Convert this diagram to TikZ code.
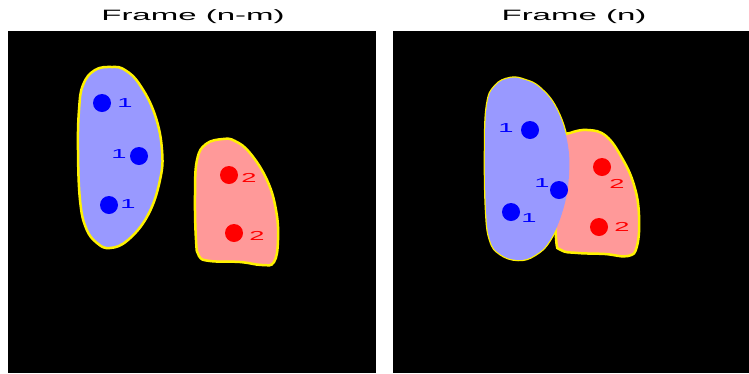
\documentclass[tikz,border=0pt]{standalone}
\usepackage{fontspec}
\setmainfont{Liberation Sans}
\usetikzlibrary{positioning}

\definecolor{blobblue}{RGB}{153,153,255}
\definecolor{blobred}{RGB}{255,153,153}

\tikzset{
  bdot/.style={circle, fill=blue, inner sep=0pt, minimum size=18pt},
  rdot/.style={circle, fill=red, inner sep=0pt, minimum size=18pt},
  numlbl/.style={font=\fontsize{13}{13}\selectfont, xscale=2.1, inner sep=0pt},
  frametitle/.style={font=\fontsize{15}{15}\selectfont, xscale=2.2, inner sep=0pt},
  rim/.style={draw=yellow, line width=2.5pt},
}

\begin{document}
\begin{tikzpicture}[x=1pt, y=-1pt]
  \useasboundingbox (0,0) rectangle (749,373);

  % 画面
  \fill[black] (8,31) rectangle (376,373);
  \fill[black] (393,31) rectangle (749,373);

  % タイトル
  \node[frametitle] (titleA) at (193,17) {Frame (n-m)};
  \node[frametitle] (titleB) at (574,17) {Frame (n)};

  % 左: 青の領域
  \draw[rim, fill=blobblue] plot[smooth cycle, tension=0.7] coordinates {
    (112,67) (95,70) (83,85) (79,110) (78,150) (80,200) (86,228) (97,243)
    (110,248) (128,240) (148,215) (160,180) (162,150) (155,115) (140,85) (125,70)};

  % 左: 赤の領域
  \draw[rim, fill=blobred] plot[smooth cycle, tension=0.7] coordinates {
    (223,139) (206,144) (197,160) (195,195) (196,240) (199,256) (210,261)
    (240,262) (262,265) (274,262) (278,240) (276,210) (267,180) (250,153) (235,141)};

  % 右: 青の縁
  \draw[rim] plot[smooth cycle, tension=0.7] coordinates {
    (510,78) (495,86) (487,105) (485,150) (486,210) (490,240) (500,254) (518,260)
    (535,255) (550,240) (563,210) (569,175) (567,140) (556,108) (540,88) (525,80)};

  % 右: 赤の領域
  \draw[rim, fill=blobred] plot[smooth cycle, tension=0.7] coordinates {
    (588,130) (570,133) (560,140) (555,180) (556,238) (561,250) (578,253)
    (605,254) (628,256) (637,246) (639,215) (634,185) (622,158) (606,136)};

  % 右: 青の領域
  \fill[blobblue] plot[smooth cycle, tension=0.7] coordinates {
    (510,78) (495,86) (487,105) (485,150) (486,210) (490,240) (500,254) (518,260)
    (535,255) (550,240) (563,210) (569,175) (567,140) (556,108) (540,88) (525,80)};

  % 左の点
  \node[bdot] (la1) at (102,103) {};
  \node[bdot] (la2) at (139,156) {};
  \node[bdot] (la3) at (109,205) {};
  \node[rdot] (lb1) at (229,175) {};
  \node[rdot] (lb2) at (234,233) {};
  \node[numlbl, text=blue] (la1n) at (125,103) {1};
  \node[numlbl, text=blue] (la2n) at (119,154) {1};
  \node[numlbl, text=blue] (la3n) at (128,204) {1};
  \node[numlbl, text=red] (lb1n) at (249,178) {2};
  \node[numlbl, text=red] (lb2n) at (257,236) {2};

  % 右の点
  \node[bdot] (ra1) at (530,130) {};
  \node[bdot] (ra2) at (559,190) {};
  \node[bdot] (ra3) at (511,212) {};
  \node[rdot] (rb1) at (602,167) {};
  \node[rdot] (rb2) at (599,227) {};
  \node[numlbl, text=blue] (ra1n) at (506,128) {1};
  \node[numlbl, text=blue] (ra2n) at (542,183) {1};
  \node[numlbl, text=blue] (ra3n) at (529,218) {1};
  \node[numlbl, text=red] (rb1n) at (617,184) {2};
  \node[numlbl, text=red] (rb2n) at (622,227) {2};
\end{tikzpicture}
\end{document}
